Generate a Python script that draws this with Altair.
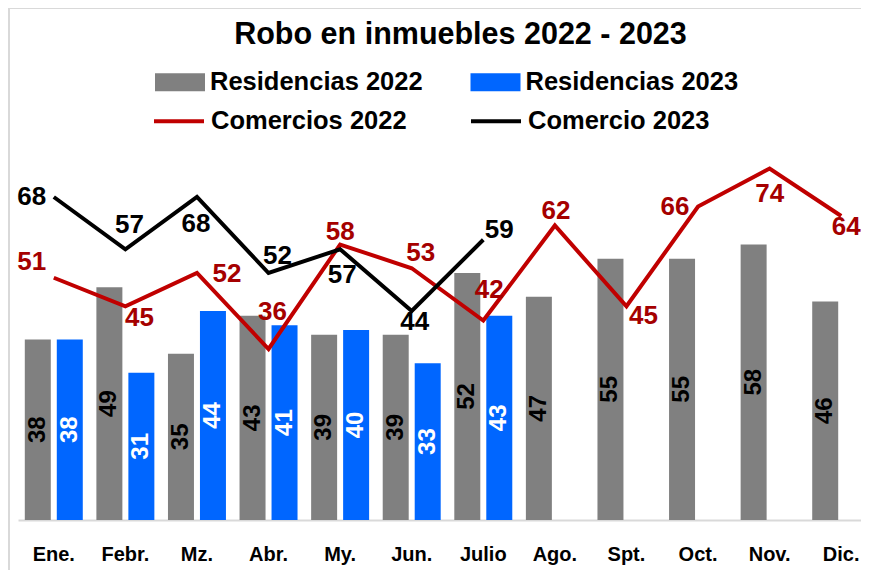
import altair as alt
import pandas as pd

meses = ["Ene.", "Febr.", "Mz.", "Abr.", "My.", "Jun.", "Julio", "Ago.", "Spt.", "Oct.", "Nov.", "Dic."]
residencias_2022 = [38, 49, 35, 43, 39, 39, 52, 47, 55, 55, 58, 46]
residencias_2023 = [38, 31, 44, 41, 40, 33, 43]
comercios_2022 = [51, 45, 52, 36, 58, 53, 42, 62, 45, 66, 74, 64]
comercio_2023 = [68, 57, 68, 52, 57, 44, 59]

BAR_SERIES = ["Residencias 2022", "Residencias 2023"]
LINE_SERIES = ["Comercios 2022", "Comercio 2023"]

rows = []
for m, v in zip(meses, residencias_2022):
    rows.append({"mes": m, "serie": BAR_SERIES[0], "valor": v})
for m, v in zip(meses, residencias_2023):
    rows.append({"mes": m, "serie": BAR_SERIES[1], "valor": v})
bars_df = pd.DataFrame(rows)

rows = []
for m, v in zip(meses, comercios_2022):
    rows.append({"mes": m, "serie": LINE_SERIES[0], "valor": v})
for m, v in zip(meses, comercio_2023):
    rows.append({"mes": m, "serie": LINE_SERIES[1], "valor": v})
lines_df = pd.DataFrame(rows)

FONT = "Liberation Sans"
GRAY = "#808080"
BLUE = "#0066FF"
RED = "#C00000"
RED_TXT = "#A50000"

x_enc = alt.X("mes:N", sort=meses,
              scale=alt.Scale(domain=meses, range=[0, 859], paddingInner=0.19, paddingOuter=0.095),
              axis=alt.Axis(title=None, labelAngle=0, ticks=False, labelPadding=24,
                            labelFont=FONT, labelFontSize=20, labelFontWeight="bold",
                            labelColor="black", domainColor="#D9D9D9", domainWidth=2))
y_scale = alt.Scale(domain=[0, 80])
xoff = alt.XOffset("serie:N", scale=alt.Scale(domain=BAR_SERIES, paddingInner=0.1875))

bars = alt.Chart(bars_df).mark_bar().encode(
    x=x_enc,
    xOffset=xoff,
    y=alt.Y("valor:Q", scale=y_scale, axis=None),
    fill=alt.Fill("serie:N", scale=alt.Scale(domain=BAR_SERIES, range=[GRAY, BLUE]),
                  legend=alt.Legend(title=None, orient="none", legendX=137, legendY=-83,
                                    direction="horizontal", columns=2, columnPadding=47.5,
                                    symbolType="M-1,-0.36H1V0.36H-1Z", symbolSize=2500,
                                    symbolStrokeWidth=0, symbolOpacity=1, labelOffset=5,
                                    labelFont=FONT, labelFontSize=25.5, labelFontWeight="bold",
                                    labelColor="black", labelLimit=400, padding=0)),
)

bar_labels = alt.Chart(bars_df).transform_calculate(mid="datum.valor / 2").mark_text(
    angle=270, align="center", baseline="middle", font=FONT, fontSize=24, fontWeight="bold"
).encode(
    x=alt.X("mes:N", sort=meses),
    xOffset=alt.XOffset("serie:N"),
    y=alt.Y("mid:Q"),
    text=alt.Text("valor:Q"),
    color=alt.condition(alt.datum.serie == BAR_SERIES[0], alt.value("black"), alt.value("white")),
)

lines = alt.Chart(lines_df).mark_line(strokeWidth=4, strokeJoin="miter").encode(
    x=alt.X("mes:N", sort=meses),
    y=alt.Y("valor:Q"),
    stroke=alt.Stroke("serie:N", scale=alt.Scale(domain=LINE_SERIES, range=[RED, "black"]),
                      legend=alt.Legend(title=None, orient="none", legendX=134, legendY=-46,
                                        direction="horizontal", columns=2, columnPadding=56,
                                        symbolType="stroke", symbolSize=2500, symbolStrokeWidth=4,
                                        labelOffset=5, labelFont=FONT, labelFontSize=25.5,
                                        labelFontWeight="bold", labelColor="black",
                                        labelLimit=400, padding=0)),
)

# label placement (pixel offsets from each point)
offsets = {
    LINE_SERIES[1]: {"Ene.": (-22, 0), "Febr.": (4, -24), "Mz.": (-1, 27), "Abr.": (9, -17),
                     "My.": (2, 26), "Jun.": (3, 11), "Julio": (16, -10)},
    LINE_SERIES[0]: {"Ene.": (-22, -16), "Febr.": (14, 12), "Mz.": (30, 1), "Abr.": (4, -37),
                     "My.": (0, -13), "Jun.": (9, -15), "Julio": (6, -31), "Ago.": (1, -15),
                     "Spt.": (17, 10), "Oct.": (-23, 0), "Nov.": (0, 25), "Dic.": (5, 11)},
}
label_colors = {LINE_SERIES[0]: RED_TXT, LINE_SERIES[1]: "black"}

line_labels = []
for serie, d in offsets.items():
    for mes, (dx, dy) in d.items():
        line_labels.append(
            alt.Chart(lines_df).transform_filter(
                (alt.datum.serie == serie) & (alt.datum.mes == mes)
            ).mark_text(dx=dx, dy=dy, align="center", baseline="middle", font=FONT,
                        fontSize=26, fontWeight="bold", color=label_colors[serie]).encode(
                x=alt.X("mes:N", sort=meses),
                y=alt.Y("valor:Q"),
                text=alt.Text("valor:Q"),
            )
        )

frame_left = alt.Chart(lines_df).mark_rule(color="#D9D9D9", strokeWidth=2).encode(
    x=alt.value(-9), y=alt.value(-132), y2=alt.value(440))
frame_top = alt.Chart(lines_df).mark_rule(color="#D9D9D9", strokeWidth=2).encode(
    x=alt.value(-9), x2=alt.value(860), y=alt.value(-132))

chart = alt.layer(frame_left, frame_top, bars, bar_labels, lines, *line_labels).resolve_scale(
    y="shared"
).properties(
    width=843, height=380,
    autosize=alt.AutoSizeParams(type="none"),
    padding={"left": 10, "top": 132, "right": 0, "bottom": 50},
    title=alt.TitleParams("Robo en inmuebles 2022 - 2023", font=FONT, fontSize=30.5,
                          fontWeight="bold", color="black", anchor="middle", dx=21,
                          baseline="alphabetic", offset=-67),
).configure_view(stroke=None)

chart.save("out.html", embed_options={"renderer": "svg", "actions": False})
